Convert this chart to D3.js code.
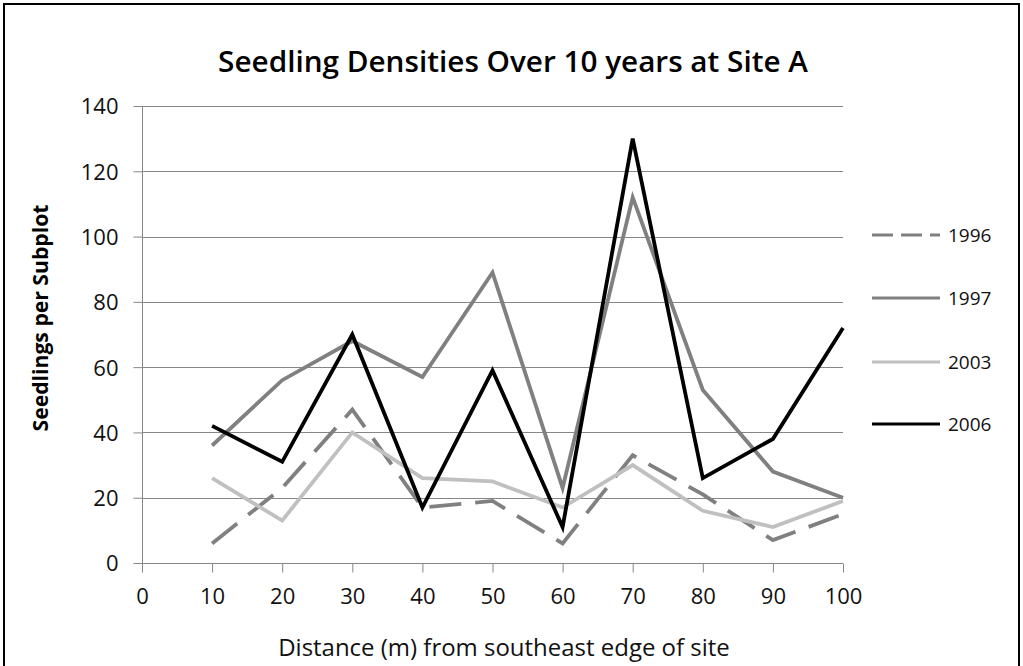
<!DOCTYPE html>
<html><head><meta charset="utf-8">
<script src="https://cdn.jsdelivr.net/npm/d3@7"></script>
<style>body{margin:0;background:#fff}svg{display:block}</style>
</head><body>
<svg id="c" width="1023" height="666"></svg>
<script>
const distances = [10,20,30,40,50,60,70,80,90,100];
const xTicks = [0,10,20,30,40,50,60,70,80,90,100];
const yTicks = [0,20,40,60,80,100,120,140];
const years = ["1996","1997","2003","2006"];
const v1996 = [6,23,47,17,19,6,33,21,7,15];
const v1997 = [36,56,68,57,89,23,112,53,28,20];
const v2003 = [26,13,40,26,25,17,30,16,11,19];
const v2006 = [42,31,70,17,59,11,130,26,38,72];
const title = "Seedling Densities Over 10 years at Site A";
const xTitle = "Distance (m) from southeast edge of site";
const yTitle = "Seedlings per Subplot";

const seriesVals = [v1996, v1997, v2003, v2006];
const colors = ["#808080","#808080","#c0c0c0","#000000"];
const dashes = ["32,14", null, null, null];
const legDashes = ["21,8", null, null, null];

const svg = d3.select("#c");
const FONT = "'Open Sans', 'DejaVu Sans', sans-serif";
const L = 142, R = 843, T = 106, B = 563;
const x = d3.scaleLinear().domain([0,100]).range([L,R]);
const y = d3.scaleLinear().domain([0,140]).range([B,T]);

function fit(sel, w){ const n=sel.node(); const cur=n.getComputedTextLength(); const fs=parseFloat(sel.attr("font-size")); sel.attr("font-size", fs*w/cur); }

svg.append("rect").attr("x",4).attr("y",4).attr("width",1015).attr("height",700)
  .attr("fill","#fff").attr("stroke","#000").attr("stroke-width",2);

// gridlines
svg.append("g").selectAll("line").data(yTicks.filter(d=>d>0)).join("line")
  .attr("x1",L).attr("x2",R).attr("y1",d=>Math.round(y(d))+0.5).attr("y2",d=>Math.round(y(d))+0.5)
  .attr("stroke","#868686").attr("stroke-width",1);

// y axis
const ya = svg.append("g").attr("transform",`translate(${L+0.5},0)`)
  .call(d3.axisLeft(y).tickValues(yTicks).tickSize(9).tickPadding(15).tickFormat(d3.format("d")));
ya.select(".domain").attr("stroke","#868686").attr("d",`M0,${T}V${B}`);
ya.selectAll(".tick line").attr("stroke","#868686");
ya.selectAll(".tick text").attr("font-family",FONT).attr("font-size",22).attr("fill","#111").attr("dy","0.36em");

// x axis
const xa = svg.append("g").attr("transform",`translate(0,${B+0.5})`)
  .call(d3.axisBottom(x).tickValues(xTicks).tickSize(9).tickPadding(16).tickFormat(d3.format("d")));
xa.select(".domain").attr("stroke","#868686").attr("d",`M${L},0H${R}`);
xa.selectAll(".tick line").attr("stroke","#868686");
xa.selectAll(".tick text").attr("font-family",FONT).attr("font-size",22).attr("fill","#111");

// lines
const line = d3.line().x((d,i)=>x(distances[i])).y(d=>y(d));
seriesVals.forEach((vals,k)=>{
  svg.append("path").datum(vals).attr("d",line).attr("fill","none")
    .attr("stroke",colors[k]).attr("stroke-width",3.8).attr("stroke-linejoin","miter")
    .attr("stroke-dasharray",dashes[k]);
});

// legend
const legY = [235,298,362,424];
years.forEach((yr,k)=>{
  svg.append("line").attr("x1",872).attr("x2",940).attr("y1",legY[k]).attr("y2",legY[k])
    .attr("stroke",colors[k]).attr("stroke-width",3).attr("stroke-dasharray",legDashes[k]);
  svg.append("text").attr("x",948).attr("y",legY[k]).attr("dy","0.36em")
    .attr("font-family",FONT).attr("font-size",19).attr("fill","#111").text(yr);
});

// titles
const t = svg.append("text").attr("x",513).attr("y",72).attr("text-anchor","middle")
  .attr("font-family",FONT).attr("font-weight",600).attr("font-size",24).text(title);
fit(t,590);
const xt = svg.append("text").attr("x",504).attr("y",656).attr("text-anchor","middle")
  .attr("font-family",FONT).attr("font-size",20).attr("fill","#111").text(xTitle);
fit(xt,452);
const yt = svg.append("text").attr("transform","translate(48,318) rotate(-90)").attr("text-anchor","middle")
  .attr("font-family",FONT).attr("font-weight",700).attr("font-size",19).text(yTitle);
fit(yt,227);
</script>
</body></html>
